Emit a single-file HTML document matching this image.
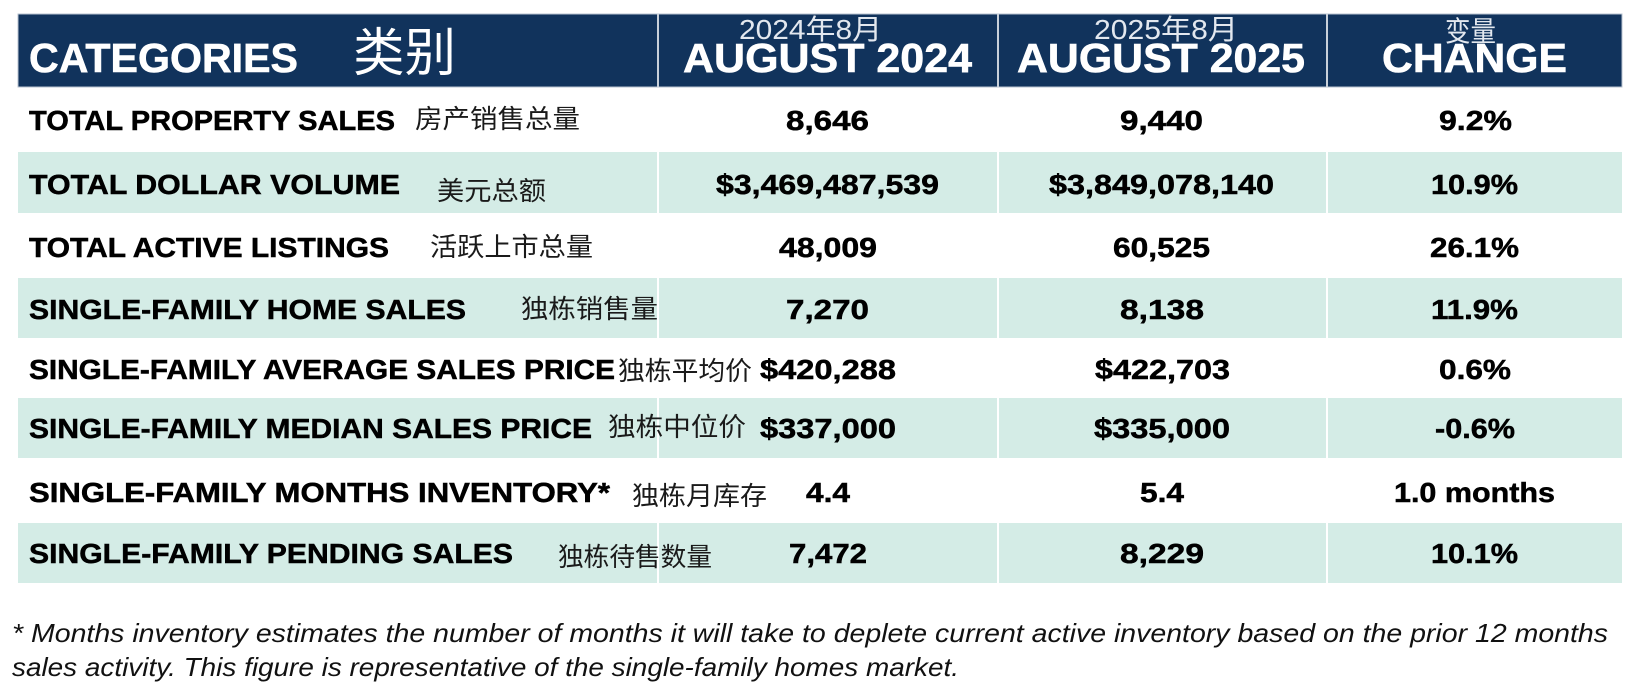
<!DOCTYPE html>
<html>
<head>
<meta charset="utf-8">
<style>
  html,body{margin:0;padding:0;background:#ffffff;}
  svg{display:block;}
  .lab{font-family:"Liberation Sans","Noto Sans CJK SC",sans-serif;font-weight:bold;font-size:28px;fill:#000;stroke:#000;stroke-width:0.5px;}
  .val{font-family:"Liberation Sans","Noto Sans CJK SC",sans-serif;font-weight:bold;font-size:28px;fill:#000;stroke:#000;stroke-width:0.5px;}
  .cjk{font-family:"Liberation Sans","Noto Sans CJK SC",sans-serif;font-size:26px;fill:#1a1a1a;}
  .hd{font-family:"Liberation Sans","Noto Sans CJK SC",sans-serif;font-weight:bold;font-size:41px;fill:#ffffff;stroke:#ffffff;stroke-width:0.6px;}
  .hsub{font-family:"Liberation Sans","Noto Sans CJK SC",sans-serif;font-size:28px;fill:#e3e8ef;}
  .hcjk{font-family:"Liberation Sans","Noto Sans CJK SC",sans-serif;font-size:52px;fill:#ffffff;}
  .foot{font-family:"Liberation Sans",sans-serif;font-style:italic;font-size:26px;fill:#111;}
</style>
</head>
<body>
<svg width="1638" height="700" viewBox="0 0 1638 700" xmlns="http://www.w3.org/2000/svg">
  <rect x="0" y="0" width="1638" height="700" fill="#ffffff"/>

  <!-- Header -->
  <rect x="18" y="14" width="1604" height="73" fill="#11335c" stroke="#b9c3d0" stroke-width="1"/>
  <rect x="657" y="14" width="2" height="73" fill="#c8d0da"/>
  <rect x="997" y="14" width="2" height="73" fill="#c8d0da"/>
  <rect x="1326" y="14" width="2" height="73" fill="#c8d0da"/>

  <text class="hd" x="29" y="72" textLength="269" lengthAdjust="spacingAndGlyphs">CATEGORIES</text>
  <text class="hcjk" x="353" y="71" textLength="103" lengthAdjust="spacingAndGlyphs">类别</text>

  <text class="hsub" x="739" y="39" textLength="143" lengthAdjust="spacingAndGlyphs">2024年8月</text>
  <text class="hd" x="683" y="72" textLength="289" lengthAdjust="spacingAndGlyphs">AUGUST 2024</text>

  <text class="hsub" x="1094" y="39" textLength="144" lengthAdjust="spacingAndGlyphs">2025年8月</text>
  <text class="hd" x="1017" y="72" textLength="288" lengthAdjust="spacingAndGlyphs">AUGUST 2025</text>

  <text class="hsub" x="1445" y="41" font-size="27" textLength="51" lengthAdjust="spacingAndGlyphs">变量</text>
  <text class="hd" x="1382" y="72" textLength="185" lengthAdjust="spacingAndGlyphs">CHANGE</text>

  <!-- Teal rows -->
  <rect x="18" y="152" width="1604" height="61" fill="#d4ece6"/>
  <rect x="18" y="278" width="1604" height="60" fill="#d4ece6"/>
  <rect x="18" y="398" width="1604" height="60" fill="#d4ece6"/>
  <rect x="18" y="523" width="1604" height="60" fill="#d4ece6"/>
  <!-- dividers in teal rows -->
  <g fill="#ffffff">
    <rect x="657" y="152" width="2" height="61"/>
    <rect x="997" y="152" width="2" height="61"/>
    <rect x="1326" y="152" width="2" height="61"/>
    <rect x="657" y="278" width="2" height="60"/>
    <rect x="997" y="278" width="2" height="60"/>
    <rect x="1326" y="278" width="2" height="60"/>
    <rect x="657" y="398" width="2" height="60"/>
    <rect x="997" y="398" width="2" height="60"/>
    <rect x="1326" y="398" width="2" height="60"/>
    <rect x="657" y="523" width="2" height="60"/>
    <rect x="997" y="523" width="2" height="60"/>
    <rect x="1326" y="523" width="2" height="60"/>
  </g>

  <!-- Row 1 -->
  <text class="lab" x="29" y="130" textLength="366" lengthAdjust="spacingAndGlyphs">TOTAL PROPERTY SALES</text>
  <text class="cjk" x="415" y="128" textLength="165" lengthAdjust="spacingAndGlyphs">房产销售总量</text>
  <text class="val" x="786" y="130" textLength="83" lengthAdjust="spacingAndGlyphs">8,646</text>
  <text class="val" x="1120" y="130" textLength="83" lengthAdjust="spacingAndGlyphs">9,440</text>
  <text class="val" x="1439" y="130" textLength="73" lengthAdjust="spacingAndGlyphs">9.2%</text>

  <!-- Row 2 -->
  <text class="lab" x="29" y="194" textLength="371" lengthAdjust="spacingAndGlyphs">TOTAL DOLLAR VOLUME</text>
  <text class="cjk" x="437" y="200" textLength="109" lengthAdjust="spacingAndGlyphs">美元总额</text>
  <text class="val" x="716" y="194" textLength="223" lengthAdjust="spacingAndGlyphs">$3,469,487,539</text>
  <text class="val" x="1049" y="194" textLength="225" lengthAdjust="spacingAndGlyphs">$3,849,078,140</text>
  <text class="val" x="1431" y="194" textLength="87" lengthAdjust="spacingAndGlyphs">10.9%</text>

  <!-- Row 3 -->
  <text class="lab" x="29" y="257" textLength="360" lengthAdjust="spacingAndGlyphs">TOTAL ACTIVE LISTINGS</text>
  <text class="cjk" x="430" y="256" textLength="163" lengthAdjust="spacingAndGlyphs">活跃上市总量</text>
  <text class="val" x="779" y="257" textLength="98" lengthAdjust="spacingAndGlyphs">48,009</text>
  <text class="val" x="1113" y="257" textLength="97" lengthAdjust="spacingAndGlyphs">60,525</text>
  <text class="val" x="1430" y="257" textLength="89" lengthAdjust="spacingAndGlyphs">26.1%</text>

  <!-- Row 4 -->
  <text class="lab" x="29" y="319" textLength="437" lengthAdjust="spacingAndGlyphs">SINGLE-FAMILY HOME SALES</text>
  <text class="cjk" x="521" y="318" textLength="137" lengthAdjust="spacingAndGlyphs">独栋销售量</text>
  <text class="val" x="786" y="319" textLength="83" lengthAdjust="spacingAndGlyphs">7,270</text>
  <text class="val" x="1120" y="319" textLength="84" lengthAdjust="spacingAndGlyphs">8,138</text>
  <text class="val" x="1431" y="319" textLength="87" lengthAdjust="spacingAndGlyphs">11.9%</text>

  <!-- Row 5 -->
  <text class="lab" x="29" y="379" textLength="586" lengthAdjust="spacingAndGlyphs">SINGLE-FAMILY AVERAGE SALES PRICE</text>
  <text class="cjk" x="618" y="380" textLength="134" lengthAdjust="spacingAndGlyphs">独栋平均价</text>
  <text class="val" x="760" y="379" textLength="136" lengthAdjust="spacingAndGlyphs">$420,288</text>
  <text class="val" x="1095" y="379" textLength="135" lengthAdjust="spacingAndGlyphs">$422,703</text>
  <text class="val" x="1439" y="379" textLength="72" lengthAdjust="spacingAndGlyphs">0.6%</text>

  <!-- Row 6 -->
  <text class="lab" x="29" y="438" textLength="563" lengthAdjust="spacingAndGlyphs">SINGLE-FAMILY MEDIAN SALES PRICE</text>
  <text class="cjk" x="608" y="436" textLength="138" lengthAdjust="spacingAndGlyphs">独栋中位价</text>
  <text class="val" x="760" y="438" textLength="136" lengthAdjust="spacingAndGlyphs">$337,000</text>
  <text class="val" x="1094" y="438" textLength="136" lengthAdjust="spacingAndGlyphs">$335,000</text>
  <text class="val" x="1435" y="438" textLength="80" lengthAdjust="spacingAndGlyphs">-0.6%</text>

  <!-- Row 7 -->
  <text class="lab" x="29" y="502" textLength="581" lengthAdjust="spacingAndGlyphs">SINGLE-FAMILY MONTHS INVENTORY*</text>
  <text class="cjk" x="632" y="505" textLength="135" lengthAdjust="spacingAndGlyphs">独栋月库存</text>
  <text class="val" x="806" y="502" textLength="44" lengthAdjust="spacingAndGlyphs">4.4</text>
  <text class="val" x="1140" y="502" textLength="44" lengthAdjust="spacingAndGlyphs">5.4</text>
  <text class="val" x="1394" y="502" textLength="161" lengthAdjust="spacingAndGlyphs">1.0 months</text>

  <!-- Row 8 -->
  <text class="lab" x="29" y="563" textLength="484" lengthAdjust="spacingAndGlyphs">SINGLE-FAMILY PENDING SALES</text>
  <text class="cjk" x="558" y="566" textLength="154" lengthAdjust="spacingAndGlyphs">独栋待售数量</text>
  <text class="val" x="789" y="563" textLength="78" lengthAdjust="spacingAndGlyphs">7,472</text>
  <text class="val" x="1120" y="563" textLength="84" lengthAdjust="spacingAndGlyphs">8,229</text>
  <text class="val" x="1431" y="563" textLength="87" lengthAdjust="spacingAndGlyphs">10.1%</text>

  <!-- Footnote -->
  <text class="foot" x="12" y="642" textLength="1596" lengthAdjust="spacingAndGlyphs">* Months inventory estimates the number of months it will take to deplete current active inventory based on the prior 12 months</text>
  <text class="foot" x="12" y="676" textLength="947" lengthAdjust="spacingAndGlyphs">sales activity. This figure is representative of the single-family homes market.</text>
</svg>
</body>
</html>
